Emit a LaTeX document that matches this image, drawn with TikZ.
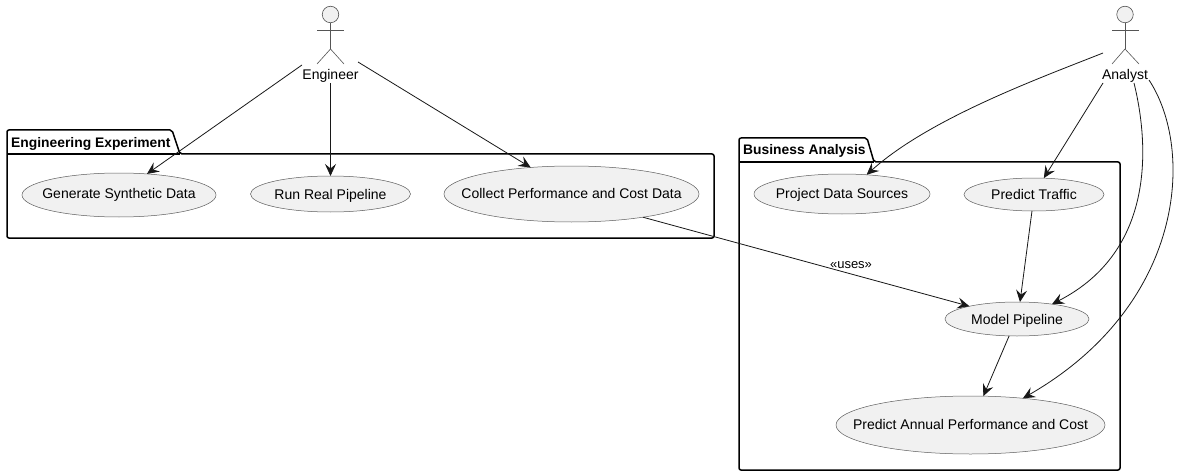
\documentclass[tikz,border=0pt]{standalone}
\usepackage{fontspec}
\setmainfont{Liberation Sans}
\usetikzlibrary{arrows.meta,shapes.geometric}
\definecolor{ink}{HTML}{181818}
\definecolor{ufill}{HTML}{F1F1F1}
\definecolor{actorline}{HTML}{555555}
\newcommand{\uctext}[2]{\smash{\raisebox{-#1}{\makebox[0pt][c]{#2}}}}
\tikzset{
  usecase/.style={ellipse,draw=ink!70,line width=0.5pt,fill=ufill,inner sep=0pt,outer sep=0pt,font=\fontsize{14}{16}\selectfont,text=black},
  pkg/.style={draw=black,line width=1.5pt,rounded corners=2pt,line join=round},
  pkgline/.style={draw=black,line width=1.5pt},
  pkglabel/.style={inner sep=0pt,font=\bfseries\fontsize{13.85}{16}\selectfont,anchor=base west},
  actorhead/.style={circle,draw=actorline,line width=0.6pt,fill=ufill,minimum size=16.5pt,inner sep=0pt,outer sep=0pt},
  actorlimb/.style={draw=actorline,line width=0.6pt},
  actorname/.style={inner sep=0pt,font=\fontsize{14}{16}\selectfont},
  conn/.style={draw=ink,line width=0.8pt,-{Stealth[length=12pt,width=11pt,inset=4.5pt]}},
  connlabel/.style={inner sep=0pt,font=\fontsize{13}{14}\selectfont}
}
\begin{document}
\begin{tikzpicture}[x=1pt,y=-1pt]
\useasboundingbox[fill=white] (0,0) rectangle (1186,476);
% packages
\draw[pkg] (7,154) -- (7,130) -- (172,130) -- (180,154) -- (714,154) -- (714,238) -- (7,238) -- cycle;
\draw[pkgline] (7,154) -- (180,154);
\node[pkglabel] (pkgeng) at (11,147) {Engineering Experiment};
\draw[pkg] (739,162) -- (739,138) -- (867,138) -- (874,162) -- (1120,162) -- (1120,470) -- (739,470) -- cycle;
\draw[pkgline] (739,162) -- (874,162);
\node[pkglabel] (pkgbiz) at (743,155) {Business Analysis};
% use cases
\node[usecase,minimum width=194pt,minimum height=44pt] (gen) at (119,195) {\uctext{3.5pt}{Generate Synthetic Data}};
\node[usecase,minimum width=160pt,minimum height=36pt] (run) at (330.5,194) {\uctext{5pt}{Run Real Pipeline}};
\node[usecase,minimum width=255pt,minimum height=56pt] (col) at (571.5,194) {\uctext{4.5pt}{Collect Performance and Cost Data}};
\node[usecase,minimum width=176pt,minimum height=40pt] (prj) at (842,194) {\uctext{4.5pt}{Project Data Sources}};
\node[usecase,minimum width=140pt,minimum height=33pt] (trf) at (1034,194.5) {\uctext{5pt}{Predict Traffic}};
\node[usecase,minimum width=144pt,minimum height=34pt] (mdl) at (1017,319) {\uctext{5pt}{Model Pipeline}};
\node[usecase,minimum width=269pt,minimum height=58pt] (ann) at (970.5,425) {\uctext{4.5pt}{Predict Annual Performance and Cost}};
% actors
\node[actorhead] (enghead) at (330.5,14.5) {};
\coordinate (enghip) at (330.5,49);
\draw[actorlimb] (enghead) -- (enghip);
\draw[actorlimb] (317,30) -- (344,30);
\draw[actorlimb] (317,64) -- (enghip) -- (344,64);
\node[actorname] (eng) at (330.5,75.5) {Engineer};
\node[actorhead] (anahead) at (1125,14.5) {};
\coordinate (anahip) at (1125,49);
\draw[actorlimb] (anahead) -- (anahip);
\draw[actorlimb] (1112,30) -- (1139,30);
\draw[actorlimb] (1112,64) -- (anahip) -- (1139,64);
\node[actorname] (ana) at (1125,75.5) {Analyst};
% free ends
\coordinate (e1) at (302,65);
\coordinate (e2) at (330.5,83);
\coordinate (e3) at (358,62);
\coordinate (a1) at (1103,53);
\coordinate (a2) at (1103,83);
\coordinate (a3) at (1134,83);
\coordinate (a4) at (1149,80);
% connectors
\draw[conn] (e1) -- (gen.37.5);
\draw[conn] (e2) -- (run.90);
\draw[conn] (e3) -- (col.147.6);
\draw[conn] (a1) .. controls (1040,78) and (930,118) .. (prj.38);
\draw[conn] (a2) -- (trf.59.5);
\draw[conn] (trf.-97) -- (mdl.80);
\draw[conn] (a3) .. controls (1148,140) and (1158,250) .. (mdl.23);
\draw[conn] (a4) .. controls (1195,150) and (1185,305) .. (ann.27.7);
\draw[conn] (mdl.-115) -- (ann.66.7);
\draw[conn] (col.-18) -- (mdl.165.7);
\node[connlabel] (uses) at (851,265) {«uses»};
\end{tikzpicture}
\end{document}
